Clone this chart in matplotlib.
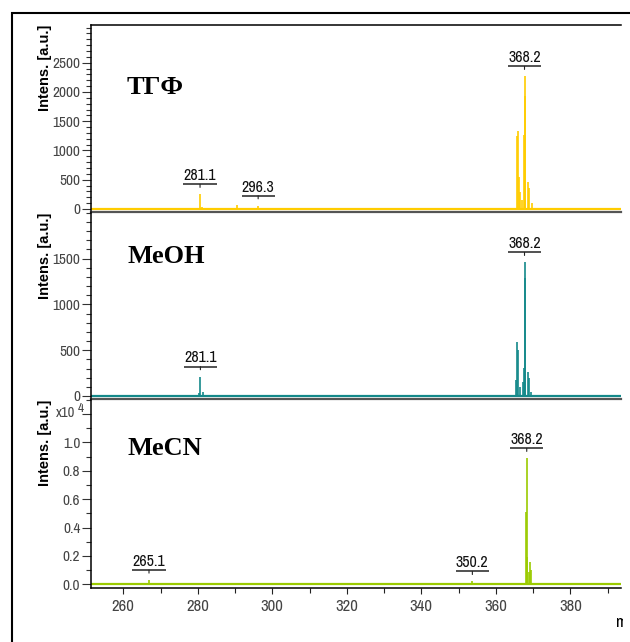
import matplotlib
matplotlib.use('Agg')
import matplotlib.pyplot as plt
from matplotlib import font_manager
from matplotlib.font_manager import FontProperties
from matplotlib.transforms import ScaledTranslation, Bbox, TransformedBbox
from matplotlib.patches import Rectangle

# ---------------- data ----------------
x_range = [251.25, 393.6]
x_major = [260, 280, 300, 320, 340, 360, 380]
x_minor = [270, 290, 310, 330, 350, 370, 390]

thf_mz = [268.5, 280.6, 281.0, 290.4, 296.2, 365.6, 365.85, 366.1, 366.6, 366.9,
          367.45, 367.7, 367.9, 368.7, 369.0, 369.6, 379.9]
thf_int = [15, 250, 30, 60, 55, 1244, 1329, 550, 295, 150,
           1260, 2266, 1925, 455, 352, 100, 15]
thf_label_mz = [280.6, 296.2, 367.7]
thf_label_txt = ['281.1', '296.3', '368.2']

meoh_mz = [280.3, 280.7, 281.3, 296.2, 365.4, 365.7, 365.9, 366.6, 367.2, 367.45,
           367.7, 367.95, 368.7, 369.0, 369.5]
meoh_int = [30, 211, 40, 10, 175, 594, 503, 102, 157, 303,
            1459, 1288, 266, 193, 40]
meoh_label_mz = [280.7, 367.7]
meoh_label_txt = ['281.1', '368.2']

mecn_mz = [266.9, 280.0, 353.7, 368.0, 368.3, 368.45, 368.9, 369.25, 369.5, 370.3, 389.8]
mecn_int = [300, 100, 200, 5110, 8870, 1900, 900, 1600, 1000, 100, 100]
mecn_label_mz = [266.9, 353.7, 368.3]
mecn_label_txt = ['265.1', '350.2', '368.2']

panel_names = ['ТГФ', 'MeOH', 'MeCN']
panel_colors = ['#FFCC00', '#14898A', '#9BCB00']
panel_ylim = [(-43, 3144), (-33, 2015), (-225, 13050)]
panel_yticks = [[0, 500, 1000, 1500, 2000, 2500],
                [0, 500, 1000, 1500],
                [0, 2000, 4000, 6000, 8000, 10000, 12000]]
panel_yticklabels = [['0', '500', '1000', '1500', '2000', '2500'],
                     ['0', '500', '1000', '1500'],
                     ['0.0', '0.2', '0.4', '0.6', '0.8', '1.0', '']]
panel_yminor_step = [100, 100, 1000]
panel_yminor_max = [3100, 2000, 13000]

# ---------------- fonts ----------------
# look for a narrow / condensed sans face (the original uses a condensed face)
narrow_file = None
narrow_size = 10
cands = []
for f in font_manager.fontManager.ttflist:
    nm = f.name.lower()
    if f.style != 'normal' or f.weight not in (400, 'normal', 'regular'):
        continue
    fn = f.fname.lower()
    if 'narrow' in nm or 'narrow' in fn:
        cands.append((0, f.fname))
    elif ('condensed' in nm or 'condensed' in fn or str(f.stretch) in
          ('condensed', 'semi-condensed', 'extra-condensed', '75', '87.5')):
        if 'bold' not in fn and 'oblique' not in fn and 'italic' not in fn:
            cands.append((1, f.fname))
cands.sort()
if cands:
    narrow_file = cands[0][1]
    narrow_size = 11 if cands[0][0] == 0 else 10.5


def nfont(size):
    if narrow_file:
        return FontProperties(fname=narrow_file, size=size)
    return FontProperties(family='Liberation Sans', size=size - 1.2)


plt.rcParams['font.family'] = ['Liberation Sans', 'DejaVu Sans']

W, H = 630, 642
fig = plt.figure(figsize=(W / 100, H / 100), dpi=100)
fig.patch.set_facecolor('white')


def fx(px):
    return px / W


def fy(py):
    return 1 - py / H


# outer frame
fig.add_artist(Rectangle((fx(11.5), -0.5), 2.0, fy(12.5) + 0.5, transform=fig.transFigure,
                         fill=False, lw=1.5, ec='black'))

panels = [(25, 211.5), (211.5, 399), (399, 587.5)]
ax_left, ax_right = 90.7, 621

data = [(thf_mz, thf_int, thf_label_mz, thf_label_txt),
        (meoh_mz, meoh_int, meoh_label_mz, meoh_label_txt),
        (mecn_mz, mecn_int, mecn_label_mz, mecn_label_txt)]

title_baselines = [94, 263, 455]
ylabel_tops = [25, 213, 400]

for i, ((top, bot), (mz, inten, lmz, ltxt)) in enumerate(zip(panels, data)):
    ax = fig.add_axes([fx(ax_left), fy(bot), fx(ax_right) - fx(ax_left), (bot - top) / H])
    ax.set_facecolor('none')
    col = panel_colors[i]
    ax.set_xlim(*x_range)
    ax.set_ylim(*panel_ylim[i])
    ax.axhline(0, color=col, lw=1.6, zorder=2)
    ax.vlines(mz, 0, inten, color=col, lw=1.2, zorder=3)

    # peak annotations
    line_tr = ax.transData + ScaledTranslation(0, 10 / 100, fig.dpi_scale_trans)
    for m, t in zip(lmz, ltxt):
        h = max(v for mm, v in zip(mz, inten) if abs(mm - m) < 0.6)
        ax.plot([m - 4.45, m + 4.45], [h, h], color='#222222', lw=1.1,
                transform=line_tr, solid_capstyle='butt', clip_on=False)
        ax.annotate('', xy=(m, h), xytext=(0, 7.2), textcoords='offset points',
                    arrowprops=dict(arrowstyle='-', color='#222222', lw=0.8,
                                    shrinkA=0, shrinkB=5))
        ax.annotate(t, xy=(m, h), xytext=(0, 10.2), textcoords='offset points',
                    ha='center', va='baseline', color='#111111',
                    fontproperties=nfont(narrow_size + 0.5))

    # spines
    ax.spines['right'].set_visible(False)
    ax.spines['left'].set_color('black')
    ax.spines['left'].set_linewidth(1.1)
    if i == 0:
        ax.spines['top'].set_color('black')
        ax.spines['top'].set_linewidth(1.1)
    else:
        ax.spines['top'].set_visible(False)
    if i < 2:
        ax.spines['bottom'].set_color('#555555')
        ax.spines['bottom'].set_linewidth(1.6)
        ax.tick_params(axis='x', which='both', bottom=False, labelbottom=False)
    else:
        ax.spines['bottom'].set_color('black')
        ax.spines['bottom'].set_linewidth(1.1)
        ax.set_xticks(x_major)
        ax.set_xticks(x_minor, minor=True)
        ax.set_xticklabels([str(v) for v in x_major], fontproperties=nfont(narrow_size + 1))
        ax.tick_params(axis='x', which='major', direction='out', length=4.3, width=0.8,
                       pad=4, labelcolor='#444444', color='#222222')
        ax.tick_params(axis='x', which='minor', direction='out', length=3.6, width=0.8,
                       color='#222222')

    ax.set_yticks(panel_yticks[i])
    ax.set_yticklabels(panel_yticklabels[i], fontproperties=nfont(narrow_size))
    step = panel_yminor_step[i]
    ax.set_yticks(list(range(0, panel_yminor_max[i] + 1, step)), minor=True)
    ax.tick_params(axis='y', which='major', direction='out', length=6.5, width=0.8,
                   pad=1, labelcolor='#444444', color='#333333')
    ax.tick_params(axis='y', which='minor', direction='out', length=3.6, width=0.8,
                   color='#333333')

    # panel title
    fig.text(fx(127), fy(title_baselines[i]), panel_names[i], family='Liberation Serif',
             fontweight='bold', fontsize=19, ha='left', va='baseline', color='black')
    # y label
    fig.text(fx(44.5), fy(ylabel_tops[i]), 'Intens. [a.u.]', rotation=90, ha='center',
             va='top', fontsize=10.5, fontweight='bold', family='Liberation Sans',
             color='black')

# scale factor label for bottom panel
fig.text(fx(75.5), fy(417), 'x10', ha='right', va='baseline', color='#444444',
         fontproperties=nfont(narrow_size - 0.5))
fig.text(fx(77.5), fy(412.5), '4', ha='left', va='baseline', color='#444444',
         fontproperties=nfont(narrow_size - 1.5))

# x label (clipped at the right, as in the original)
t = fig.text(fx(616), fy(627), 'm/z', ha='left', va='baseline', color='black',
             fontproperties=nfont(12.5))
t.set_clip_box(TransformedBbox(Bbox([[0, 0], [fx(623), 1]]), fig.transFigure))
t.set_clip_on(True)

fig.savefig('out.png', dpi=100, facecolor='white')
